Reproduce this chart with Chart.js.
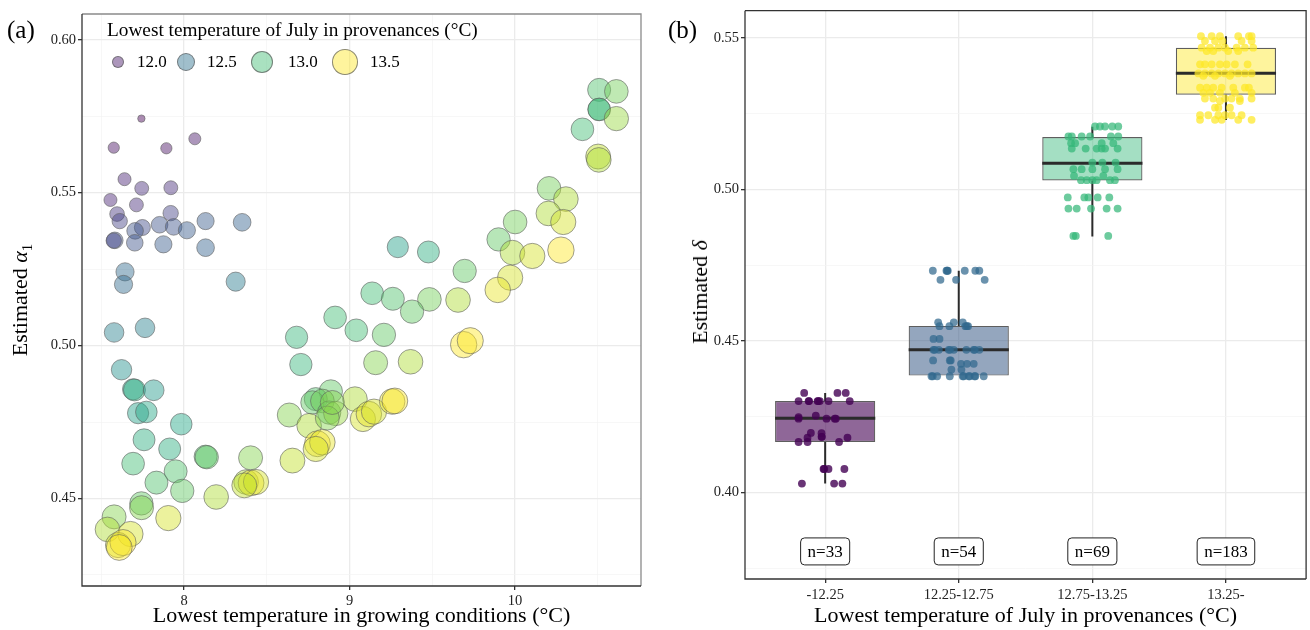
<!DOCTYPE html>
<html><head><meta charset="utf-8">
<script src="https://cdn.jsdelivr.net/npm/chart.js@4.4.0/dist/chart.umd.min.js"></script>
<style>
html,body{margin:0;padding:0;background:#fff;}
#wrap{position:relative;width:1310px;height:630px;overflow:hidden;font-family:'Liberation Serif','Times New Roman',serif;color:#000;}
canvas{position:absolute;top:0;}
.lbl{position:absolute;white-space:nowrap;line-height:1;}
.ytitle{position:absolute;white-space:nowrap;transform:translate(-50%,-50%) rotate(-90deg);font-size:22px;line-height:1;}
.lgc{position:absolute;border-radius:50%;box-sizing:border-box;border:0.8px solid rgba(90,90,90,0.7);}
</style></head><body>
<div id="wrap">
<canvas id="ca" width="655" height="630" style="left:0"></canvas>
<canvas id="cb" width="655" height="630" style="left:655px"></canvas>
<div class="lbl" style="left:7px;top:17px;font-size:25px">(a)</div>
<div class="lbl" style="left:668px;top:17px;font-size:25px">(b)</div>
<div class="ytitle" style="left:22px;top:300px">Estimated <i>α</i><sub style="font-size:15px">1</sub></div>
<div class="ytitle" style="left:700px;top:292px">Estimated <i>δ</i></div>
<div class="lbl" id="legTitle" style="left:107px;top:20px;font-size:19.3px">Lowest temperature of July in provenances (°C)</div>
<div id="legItems"></div>
</div>
<script>
// ---------- Panel (a) data ----------
const growX = [7.742,7.575,7.893,8.065,7.640,7.744,7.920,7.555,7.712,7.595,7.919,7.611,7.748,7.704,7.852,7.937,8.017,8.130,8.351,7.581,7.575,7.702,7.875,8.130,7.643,7.634,8.312,7.577,7.764,7.622,
7.692,7.700,7.816,7.722,7.772,7.983,7.758,7.913,7.692,8.130,8.137,7.949,7.833,7.989,8.402,8.194,7.742,7.743,7.577,7.905,7.537,7.676,7.601,7.631,7.608,8.375,8.405,8.435,8.364,8.636,8.655,
8.706,8.680,9.041,9.208,9.158,9.369,8.887,8.796,8.776,8.836,9.033,8.877,8.917,8.756,8.866,9.081,9.117,9.148,9.258,9.274,8.806,8.836,8.796,8.896,
10.509,10.613,10.509,10.509,10.613,10.408,10.503,10.507,10.206,10.308,10.202,10.292,10.278,10.001,9.901,9.985,10.105,9.292,9.477,9.696,9.971,9.896,9.137,9.262,9.483,9.378,9.656,8.913,9.690,9.730];
const alphaY = [0.5742,0.5647,0.5645,0.5676,0.5544,0.5514,0.5516,0.5476,0.5460,0.5430,0.5433,0.5407,0.5386,0.5375,0.5395,0.5388,0.5377,0.5407,0.5403,0.5344,0.5343,0.5336,0.5331,0.5320,0.5241,0.5200,0.5209,0.5043,0.5058,0.4921,
0.4857,0.4855,0.4854,0.4779,0.4783,0.4743,0.4692,0.4662,0.4614,0.4637,0.4635,0.4589,0.4552,0.4525,0.4633,0.4505,0.4484,0.4470,0.4440,0.4436,0.4399,0.4384,0.4348,0.4356,0.4340,0.4554,0.4551,0.4554,0.4543,0.4773,0.4624,
0.4938,0.5027,0.5050,0.5035,0.4944,0.4947,0.4850,0.4825,0.4814,0.4819,0.4825,0.4781,0.4778,0.4738,0.4763,0.4760,0.4776,0.4784,0.4817,0.4819,0.4679,0.4684,0.4662,0.4814,
0.5836,0.5831,0.5772,0.5772,0.5742,0.5707,0.5618,0.5607,0.5514,0.5479,0.5432,0.5404,0.5312,0.5404,0.5347,0.5304,0.5293,0.5322,0.5306,0.5244,0.5222,0.5182,0.5171,0.5153,0.5151,0.5111,0.5149,0.5092,0.5003,0.5016];
const provT = [11.9,11.97,11.97,12.0,12.05,12.1,12.1,12.05,12.1,12.15,12.2,12.2,12.25,12.3,12.3,12.3,12.35,12.35,12.4,12.3,12.2,12.3,12.35,12.4,12.45,12.45,12.55,12.6,12.6,12.7,
12.8,12.9,12.75,12.8,12.85,12.85,12.9,12.9,13.0,13.05,13.1,13.05,13.05,13.1,13.2,13.3,13.1,13.2,13.2,13.4,13.3,13.4,13.4,13.55,13.5,13.3,13.5,13.4,13.35,13.2,13.35,
12.95,12.95,13.0,13.1,13.2,13.3,13.1,13.05,13.1,13.15,13.3,13.1,13.25,13.3,13.2,13.4,13.45,13.4,13.45,13.5,13.5,13.45,13.4,13.2,
13.05,13.15,12.95,13.0,13.25,13.0,13.35,13.3,13.15,13.3,13.3,13.4,13.6,13.15,13.1,13.3,13.4,12.8,12.9,13.1,13.4,13.45,13.0,13.05,13.15,13.1,13.3,13.0,13.6,13.55];
const xTicksA = [7.5,8,8.5,9,9.5,10,10.5];
const yTicksA = [0.425,0.45,0.475,0.5,0.525,0.55,0.575,0.6];
const legendTemps = [12.0,12.5,13.0,13.5];

// ---------- Panel (b) data ----------
const categories = ['-12.25','12.25-12.75','12.75-13.25','13.25-'];
const nCounts = [33,54,69,183];
const boxLow = [0.4030,0.4386,0.4845,0.5229];
const boxQ1 = [0.4167,0.4386,0.5030,0.5313];
const boxMed = [0.4245,0.4471,0.5087,0.5384];
const boxQ3 = [0.4302,0.4550,0.5173,0.5468];
const boxHigh = [0.4329,0.4732,0.5207,0.5506];
const g1Off = [-0.157,0.092,0.154,-0.199,-0.124,-0.057,-0.040,0.025,0.184,-0.052,-0.120,-0.199,-0.199,-0.070,0.010,0.072,0.080,-0.107,-0.027,-0.025,0.167,-0.132,-0.199,-0.132,0.104,-0.012,0.025,0.144,-0.007,-0.174,0.067,0.129,-0.027];
const g1Val = [0.4329,0.4329,0.4329,0.4302,0.4302,0.4302,0.4302,0.4302,0.4302,0.4302,0.4302,0.4249,0.4244,0.4254,0.4244,0.4244,0.4244,0.4197,0.4196,0.4184,0.4181,0.4181,0.4167,0.4167,0.4167,0.4078,0.4078,0.4078,0.4078,0.4030,0.4030,0.4030,0.4184];
const g2Off = [-0.194,-0.092,-0.082,0.045,0.124,0.154,-0.087,-0.137,-0.020,0.194,-0.154,-0.037,0.030,-0.144,-0.070,0.050,0.070,0.060,-0.189,-0.144,-0.189,-0.149,-0.075,-0.037,0.057,0.112,0.154,-0.180,-0.065,0.120,-0.192,-0.067,-0.060,0.017,0.062,0.112,-0.055,0.020,-0.204,-0.162,-0.067,0.030,0.075,0.124,0.187,-0.195,0.037,0.082,0.118];
const g2Val = [0.4732,0.4732,0.4732,0.4732,0.4732,0.4732,0.4732,0.4702,0.4702,0.4702,0.4562,0.4562,0.4562,0.4549,0.4549,0.4549,0.4549,0.4549,0.4507,0.4507,0.4471,0.4471,0.4471,0.4471,0.4471,0.4471,0.4471,0.4471,0.4471,0.4471,0.4436,0.4436,0.4436,0.4425,0.4425,0.4425,0.4406,0.4406,0.4384,0.4384,0.4384,0.4384,0.4384,0.4384,0.4384,0.4384,0.4384,0.4384,0.4384];
const g3Off = [0.020,0.057,0.095,0.149,0.194,-0.179,-0.154,-0.080,-0.017,0.139,0.194,-0.159,-0.129,0.070,0.157,-0.154,-0.050,0.032,0.070,0.095,0.189,0,0.075,0.174,-0.142,-0.080,0,0.095,0.189,-0.137,0.082,-0.085,-0.042,0,0.032,0.132,0.169,-0.184,-0.060,-0.030,0.040,0.127,-0.179,-0.117,-0.010,0.107,0.189,-0.142,-0.124,0.119];
const g3Val = [0.5208,0.5208,0.5208,0.5208,0.5208,0.5175,0.5175,0.5175,0.5175,0.5175,0.5175,0.5153,0.5153,0.5153,0.5153,0.5135,0.5135,0.5135,0.5135,0.5135,0.5135,0.5089,0.5089,0.5089,0.5067,0.5067,0.5067,0.5067,0.5067,0.5045,0.5045,0.5031,0.5031,0.5031,0.5031,0.5031,0.5031,0.4974,0.4974,0.4974,0.4974,0.4974,0.4937,0.4937,0.4937,0.4937,0.4937,0.4847,0.4847,0.4847];
const g4Off = [-0.187,-0.107,-0.045,0.092,0.172,0.192,-0.157,-0.082,-0.027,0.117,0.192,-0.182,-0.119,-0.057,-0.007,0.080,0.142,0.204,-0.144,-0.095,0.017,0.092,-0.194,-0.157,-0.107,-0.045,0.005,0.067,0.162,-0.206,-0.157,-0.107,-0.057,-0.007,0.042,0.092,0.142,0.192,-0.169,-0.082,0.030,-0.194,-0.144,-0.095,-0.032,0.055,0.142,0.172,-0.169,-0.119,-0.045,0.067,0.192,-0.157,-0.095,-0.007,0.042,0.104,0.192,-0.045,0.104,-0.082,-0.057,0.030,-0.194,-0.132,-0.057,-0.007,0.042,0.117,-0.194,-0.082,-0.032,0.092,0.192];
const g4Val = [0.5506,0.5506,0.5506,0.5506,0.5506,0.5506,0.5490,0.5490,0.5490,0.5490,0.5490,0.5468,0.5468,0.5468,0.5468,0.5468,0.5468,0.5468,0.5457,0.5457,0.5457,0.5457,0.5413,0.5413,0.5413,0.5413,0.5413,0.5413,0.5413,0.5383,0.5383,0.5383,0.5383,0.5383,0.5383,0.5383,0.5383,0.5383,0.5375,0.5375,0.5375,0.5336,0.5336,0.5336,0.5336,0.5336,0.5336,0.5336,0.5319,0.5319,0.5319,0.5319,0.5319,0.5300,0.5300,0.5300,0.5300,0.5300,0.5300,0.5292,0.5292,0.5270,0.5270,0.5270,0.5245,0.5245,0.5245,0.5245,0.5245,0.5245,0.5230,0.5230,0.5230,0.5230,0.5230];
const yTicksB = [0.375,0.4,0.425,0.45,0.475,0.5,0.525,0.55];
const nLabelY = 0.3806;

// ---------- helpers ----------
const FONT = "'Liberation Serif','Times New Roman',serif";
const VIR = ['#440154','#482475','#414487','#355F8D','#2A788E','#21918C','#22A884','#44BF70','#7AD151','#BDDF26','#FDE725'];
function hex(h){return [parseInt(h.slice(1,3),16),parseInt(h.slice(3,5),16),parseInt(h.slice(5,7),16)];}
function viridis(t,a){t=Math.max(0,Math.min(1,t));const p=t*10;const i=Math.min(9,Math.floor(p));const f=p-i;const c0=hex(VIR[i]),c1=hex(VIR[i+1]);
  const c=c0.map((v,k)=>Math.round(v+(c1[k]-v)*f));return `rgba(${c[0]},${c[1]},${c[2]},${a})`;}
const T_MIN=11.9,T_MAX=13.6,C_MAX=13.5;
function radiusFor(t){const s=Math.max(0,Math.min(1,(t-T_MIN)/(T_MAX-T_MIN)));return 3.7+9.5*Math.sqrt(s);}
function colorFor(t,a){return viridis((t-T_MIN)/(C_MAX-T_MIN),a);}
const isMajorA=v=>Math.abs(v-Math.round(v))<1e-9;
const isMajor05=v=>Math.abs(v*20-Math.round(v*20))<1e-6;
const TICKFONT={family:FONT,size:14.5};

function borderPlugin(colTL, colBR){
  return {id:'pborder',afterDatasetsDraw(chart){const {left,right,top,bottom}=chart.chartArea;const c=chart.ctx;c.save();
    c.lineWidth=1.3;c.strokeStyle=colTL;c.beginPath();c.moveTo(left,top);c.lineTo(right,top);c.lineTo(right,bottom);c.stroke();
    c.strokeStyle=colBR;c.beginPath();c.moveTo(left,top);c.lineTo(left,bottom);c.lineTo(right,bottom);c.stroke();c.restore();}};
}

// ---------- Panel (a) ----------
const ptsA = growX.map((x,i)=>({x:x,y:alphaY[i],t:provT[i]}));
new Chart(document.getElementById('ca'),{
  type:'scatter',
  data:{datasets:[{data:ptsA,pointRadius:c=>c.raw?radiusFor(c.raw.t):3,pointHoverRadius:c=>c.raw?radiusFor(c.raw.t):3,
    backgroundColor:c=>c.raw?colorFor(c.raw.t,0.45):'#000',borderColor:'rgba(95,95,95,0.75)',borderWidth:0.8}]},
  options:{responsive:false,devicePixelRatio:1,animation:false,events:[],
    layout:{padding:{left:0,right:12,top:10,bottom:0}},
    plugins:{legend:{display:false},tooltip:{enabled:false}},
    scales:{
      x:{type:'linear',min:7.383,max:10.762,
        afterBuildTicks:s=>{s.ticks=xTicksA.map(v=>({value:v}));},
        afterFit:s=>{s.height=44;},
        ticks:{autoSkip:false,maxRotation:0,padding:2,color:'#222',font:TICKFONT,callback:v=>isMajorA(v)?String(v):''},
        grid:{color:c=>isMajorA(c.tick.value)?'#EBEBEB':'#F4F4F4',lineWidth:c=>isMajorA(c.tick.value)?1.3:0.7,
          tickColor:c=>isMajorA(c.tick.value)?'#333':'rgba(0,0,0,0)',tickLength:4},
        border:{display:false},
        title:{display:true,text:'Lowest temperature in growing conditions (°C)',color:'#000',font:{family:FONT,size:22},padding:{top:0,bottom:1}}},
      y:{type:'linear',min:0.4214,max:0.6084,
        afterBuildTicks:s=>{s.ticks=yTicksA.map(v=>({value:v}));},
        afterFit:s=>{s.width=82;},
        ticks:{autoSkip:false,padding:2,color:'#222',font:TICKFONT,callback:v=>isMajor05(v)?v.toFixed(2):''},
        grid:{color:c=>isMajor05(c.tick.value)?'#EBEBEB':'#F4F4F4',lineWidth:c=>isMajor05(c.tick.value)?1.3:0.7,
          tickColor:c=>isMajor05(c.tick.value)?'#333':'rgba(0,0,0,0)',tickLength:4},
        border:{display:false},title:{display:false}}
    }},
  plugins:[borderPlugin('#8a8a8a','#333')]
});

// legend for panel (a)
(function(){
  const box=document.getElementById('legItems');
  const cx=[118,186,262,345], tx=[137,207,288,370], cy=62;
  legendTemps.forEach((t,i)=>{
    const r=radiusFor(t);
    const d=document.createElement('div');d.className='lgc';
    d.style.cssText+=`left:${cx[i]-r}px;top:${cy-r}px;width:${2*r}px;height:${2*r}px;background:${colorFor(t,0.45)};`;
    box.appendChild(d);
    const l=document.createElement('div');l.className='lbl';l.textContent=t.toFixed(1);
    l.style.cssText+=`left:${tx[i]}px;top:${cy-9}px;font-size:17px;`;
    box.appendChild(l);
  });
})();

// ---------- Panel (b) ----------
const groupBase=['#440154','#31688E','#35B779','#FDE725'];
function rgba(h,a){const c=hex(h);return `rgba(${c[0]},${c[1]},${c[2]},${a})`;}
const offs=[g1Off,g2Off,g3Off,g4Off], vals=[g1Val,g2Val,g3Val,g4Val];
const pointSets = offs.map((o,g)=>({type:'scatter',order:0,data:o.map((d,k)=>({x:g+1+d,y:vals[g][k]})),
  pointRadius:3.9,pointHoverRadius:3.9,backgroundColor:rgba(groupBase[g],g===0?0.8:0.72),borderWidth:0}));
const BOXW=0.375;
const whiskerData=[], medianData=[];
categories.forEach((c,i)=>{
  whiskerData.push({x:i+1,y:boxHigh[i]},{x:i+1,y:boxQ3[i]},{x:i+1,y:null},{x:i+1,y:boxQ1[i]},{x:i+1,y:boxLow[i]},{x:i+1,y:null});
  medianData.push({x:i+1-BOXW,y:boxMed[i]},{x:i+1+BOXW,y:boxMed[i]},{x:i+1,y:null});
});
const nPlugin={id:'nlabels',afterDatasetsDraw(chart){
  const xs=chart.scales.x, ys=chart.scales.y, c=chart.ctx;
  c.save();c.font=`17px ${FONT}`;c.textAlign='center';c.textBaseline='middle';
  categories.forEach((cat,i)=>{
    const px=xs.getPixelForValue(i+1), py=ys.getPixelForValue(nLabelY);
    const txt='n='+nCounts[i]; const w=c.measureText(txt).width+14, h=27;
    c.beginPath();c.roundRect(px-w/2,py-h/2,w,h,4);c.fillStyle='#fff';c.fill();c.lineWidth=1;c.strokeStyle='#222';c.stroke();
    c.fillStyle='#000';c.fillText(txt,px,py+1);
  });c.restore();}};

new Chart(document.getElementById('cb'),{
  type:'bar',
  data:{datasets:[
    ...pointSets,
    {type:'line',order:2,data:medianData,borderColor:'#2b2b2b',borderWidth:3,pointRadius:0,spanGaps:false,fill:false},
    {type:'bar',order:3,data:categories.map((c,i)=>({x:i+1,y:[boxQ1[i],boxQ3[i]]})),
      backgroundColor:['rgba(68,1,84,0.6)','rgba(49,85,130,0.52)','rgba(53,183,121,0.45)','rgba(253,231,37,0.45)'],borderColor:'#5e5e5e',borderWidth:1.2,borderSkipped:false,
      categoryPercentage:0.75,barPercentage:1},
    {type:'line',order:4,data:whiskerData,borderColor:'#2b2b2b',borderWidth:2,pointRadius:0,spanGaps:false,fill:false}
  ]},
  options:{responsive:false,devicePixelRatio:1,animation:false,events:[],
    layout:{padding:{left:0,right:2,top:9,bottom:0}},
    plugins:{legend:{display:false},tooltip:{enabled:false}},
    scales:{
      x:{type:'linear',min:0.4,max:4.6,offset:false,
        afterBuildTicks:s=>{s.ticks=categories.map((c,i)=>({value:i+1}));},
        afterFit:s=>{s.height=51;},
        ticks:{autoSkip:false,maxRotation:0,padding:3,color:'#222',font:TICKFONT,callback:v=>categories[Math.round(v)-1]||''},
        grid:{offset:false,color:'#EBEBEB',lineWidth:1.3,tickColor:'#333',tickLength:4},
        border:{display:false},
        title:{display:true,text:'Lowest temperature of July in provenances (°C)',color:'#000',font:{family:FONT,size:22},padding:{top:0,bottom:1}}},
      y:{type:'linear',min:0.3715,max:0.559,beginAtZero:false,
        afterBuildTicks:s=>{s.ticks=yTicksB.map(v=>({value:v}));},
        afterFit:s=>{s.width=90;},
        ticks:{autoSkip:false,padding:2,color:'#222',font:TICKFONT,callback:v=>isMajor05(v)?v.toFixed(2):''},
        grid:{color:c=>isMajor05(c.tick.value)?'#EBEBEB':'#F4F4F4',lineWidth:c=>isMajor05(c.tick.value)?1.3:0.7,
          tickColor:c=>isMajor05(c.tick.value)?'#333':'rgba(0,0,0,0)',tickLength:4},
        border:{display:false},title:{display:false}}
    }},
  plugins:[nPlugin,borderPlugin('#333','#333')]
});
</script>
</body></html>
